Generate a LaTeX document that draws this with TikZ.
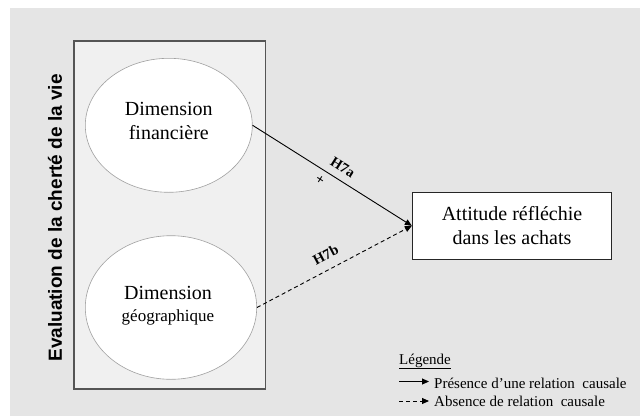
\documentclass[tikz,border=0pt]{standalone}
\usepackage{fontspec}
\setmainfont{Liberation Serif}
\newfontfamily\arialfont{Liberation Sans}
\usetikzlibrary{arrows.meta,shapes.geometric}
\definecolor{bggray}{HTML}{E5E5E5}
\definecolor{panelgray}{HTML}{F0F0F0}
\definecolor{paneledge}{HTML}{555555}
\definecolor{elledge}{HTML}{A0A0A0}
\tikzset{
  dimell/.style={ellipse, draw=elledge, fill=white, line width=0.6pt, inner sep=0pt},
  dimtext/.style={align=center, inner sep=0pt, font=\fontsize{20}{24}\selectfont},
  causal/.style={line width=0.9pt, -{Triangle[length=7pt,width=6pt]}},
  nocausal/.style={line width=0.9pt, dash pattern=on 4pt off 3pt, -{Triangle[length=7pt,width=6pt]}},
  hlabel/.style={font=\bfseries\fontsize{14.5}{16}\selectfont, inner sep=0pt, sloped},
  legtext/.style={anchor=base west, inner sep=0pt, font=\fontsize{15}{18}\selectfont},
}
\begin{document}
\begin{tikzpicture}[x=1pt,y=-1pt]
\useasboundingbox (0,0) rectangle (640,416);
\fill[bggray] (10,8) rectangle (640,416);
% panel
\node[draw=paneledge, fill=panelgray, line width=1.4pt, minimum width=191.7pt, minimum height=348pt, inner sep=0pt] (panel) at (169.7,215) {};
% vertical title
\node[rotate=90, inner sep=0pt, font=\arialfont\bfseries\fontsize{19}{22}\selectfont] (title) at (55,218) {Evaluation de la cherté de la vie};
% ellipses
\node[dimell, minimum width=167pt, minimum height=134pt] (fin) at (168.8,125.3) {};
\node[dimtext] (fintxt) at (168.8,120.5) {Dimension\\financière};
\node[dimell, minimum width=171.4pt, minimum height=143.6pt] (geo) at (171,307.5) {};
\node[dimtext] (geotxt) at (168,306) {Dimension\\[-2pt]{\fontsize{17}{20}\selectfont géographique}};
% target box
\node[draw=black!85, fill=white, line width=0.9pt, minimum width=199.4pt, minimum height=67pt, align=center, inner sep=0pt, font=\fontsize{20}{24}\selectfont] (att) at (512,225.8) {Attitude réfléchie\\dans les achats};
% connectors
\draw[causal] (fin.east) -- (att.west)
  node[hlabel, pos=0.525, above=7pt] (h7a) {H7a}
  node[hlabel, pos=0.457, below=6pt] (plus) {+};
\draw[nocausal] (geo.east) -- (att.west)
  node[hlabel, pos=0.487, above=9pt] (h7b) {H7b};
% legend
\node[legtext] (leg) at (399,364) {\underline{Légende}};
\coordinate (l1a) at (399,381.5);
\coordinate (l1b) at (429,381.5);
\coordinate (l2a) at (399,401);
\coordinate (l2b) at (429,401);
\draw[causal] (l1a) -- (l1b);
\draw[nocausal] (l2a) -- (l2b);
\node[legtext] (leg1) at (434,388) {Présence d'une relation\ \ causale};
\node[legtext] (leg2) at (434,406.5) {Absence de relation\ \ causale};
\end{tikzpicture}
\end{document}
